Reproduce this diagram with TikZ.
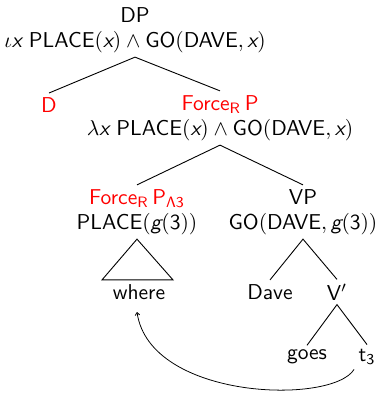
\documentclass[tikz,border=0pt]{standalone}
\usepackage[no-math]{fontspec}
\renewcommand\familydefault{\sfdefault}
\usetikzlibrary{arrows.meta,calc}
\newcommand\vx{\mbox{\sffamily\itshape x}}
\newcommand\vg{\mbox{\sffamily\itshape g}}
\begin{document}
\begin{tikzpicture}[x=0.465pt,y=-0.465pt,
  every node/.style={font=\fontsize{10}{11.6}\selectfont\sffamily, align=center, inner sep=1.9pt},
  redlbl/.style={text=red},
  edge/.style={line width=0.42pt},
  move/.style={line width=0.36pt, -{To[length=1.6pt,width=2.4pt]}}]
\useasboundingbox (0,0) rectangle (376,393);
\node (dp) at (135,30) {DP\\$\iota\vx$ PLACE$(\vx)\wedge{}$GO$($DAVE$,\vx)$};
\node[redlbl] (d) at (49,105) {D};
\node (force) at (220,118) {\textcolor{red}{Force\textsubscript{R}\,P}\\$\lambda\vx$ PLACE$(\vx)\wedge{}$GO$($DAVE$,\vx)$};
\node (fp3) at (137,212) {\textcolor{red}{Force\textsubscript{R}\,P$_{\mathsf{\Lambda 3}}$}\\PLACE$(\vg(\mathsf{3}))$};
\node (vp) at (303,212) {VP\\GO$($DAVE$,\vg(\mathsf{3}))$};
\node (where) at (139,292) {where};
\node (dave) at (270,292) {Dave};
\node (vbar) at (337,292) {V$'$};
\node (goes) at (307,357) {goes};
\node (t3) at (367,357) {t\textsubscript{3}};
\draw[edge] (d.north) -- (dp.south) -- (force.north -| 220,0);
\draw[edge] (fp3.north) -- (force.south) -- (vp.north);
\draw[edge] ($(where.north)+(-37,0)$) -- (fp3.south) -- ($(where.north)+(34,0)$) -- cycle;
\draw[edge] (dave.north) -- (vp.south) -- (vbar.north);
\draw[edge] (goes.north) -- (vbar.south) -- (t3.north);
\draw[move] (t3.south west) .. controls (332,405) and (150,400) .. ($(where.south)+(-2,8)$);
\end{tikzpicture}
\end{document}
